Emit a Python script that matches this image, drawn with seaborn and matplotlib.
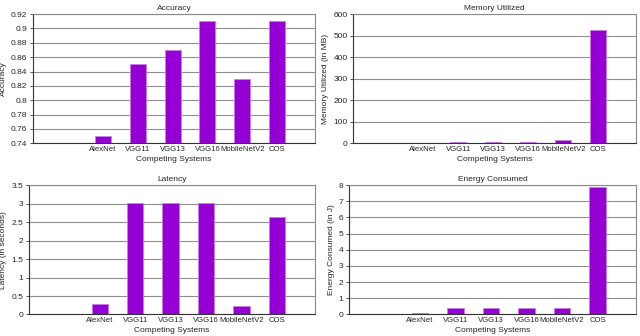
import numpy as np
import pandas as pd
import matplotlib
matplotlib.use("Agg")
import matplotlib.pyplot as plt
from matplotlib.ticker import FuncFormatter, MultipleLocator
import seaborn as sns

# --- data ---
systems = ["AlexNet", "VGG11", "VGG13", "VGG16", "MobileNetV2", "COS"]
accuracy = [0.75, 0.85, 0.87, 0.91, 0.83, 0.91]
memory_mb = [2, 4, 4, 7, 14, 528]
latency_s = [0.28, 3.03, 3.03, 3.03, 0.24, 2.63]
energy_j = [0.08, 0.38, 0.40, 0.42, 0.38, 7.9]

BAR_COLOR = "#9400D3"

sns.set_theme(style="whitegrid")
plt.rcParams["font.family"] = ["Liberation Sans", "DejaVu Sans"]

fig = plt.figure(figsize=(6.4, 3.36), dpi=100)

panels = [
    # values, title, ylabel, (ymin, ymax, step), rect
    (accuracy, "Accuracy", "Accuracy", (0.74, 0.92, 0.02), [0.0516, 0.5735, 0.4404, 0.3845]),
    (memory_mb, "Memory Utilized", "Memory Utilized (in MB)", (0, 600, 100), [0.5516, 0.5735, 0.4424, 0.3845]),
    (latency_s, "Latency", "Latency (in seconds)", (0, 3.5, 0.5), [0.0453, 0.064, 0.4469, 0.385]),
    (energy_j, "Energy Consumed", "Energy Consumed (in J)", (0, 8, 1), [0.5453, 0.064, 0.4485, 0.385]),
]

for vals, title, ylab, (ymin, ymax, step), rect in panels:
    ax = fig.add_axes(rect)
    df = pd.DataFrame({"system": systems, "value": vals})
    sns.barplot(data=df, x="system", y="value", order=systems, color=BAR_COLOR,
                width=0.46, edgecolor="#c77ee8", linewidth=0.6, saturation=1, ax=ax)
    ax.set_xlim(-2, 6.08)
    ax.set_ylim(ymin, ymax)
    ax.yaxis.set_major_locator(MultipleLocator(step))
    ax.yaxis.set_major_formatter(FuncFormatter(lambda v, p: "%g" % round(v, 4)))
    ax.set_title(title, fontsize=6, pad=3)
    ax.set_ylabel(ylab, fontsize=6, labelpad=3)
    ax.set_xlabel("Competing Systems", fontsize=6, labelpad=2)
    ax.tick_params(axis="y", labelsize=6, pad=1.5, length=2.5, width=0.6,
                   color="#333333", left=True)
    ax.tick_params(axis="x", labelsize=5.6, pad=2, length=0)
    ax.grid(axis="y", color="#8f8f8f", linewidth=0.8)
    ax.grid(axis="x", visible=False)
    ax.set_axisbelow(True)
    for side, sp in ax.spines.items():
        sp.set_visible(True)
        sp.set_linewidth(0.8)
        sp.set_color("#333333" if side in ("left", "bottom") else "#8a8a8a")

fig.savefig("out.png", dpi=100)
